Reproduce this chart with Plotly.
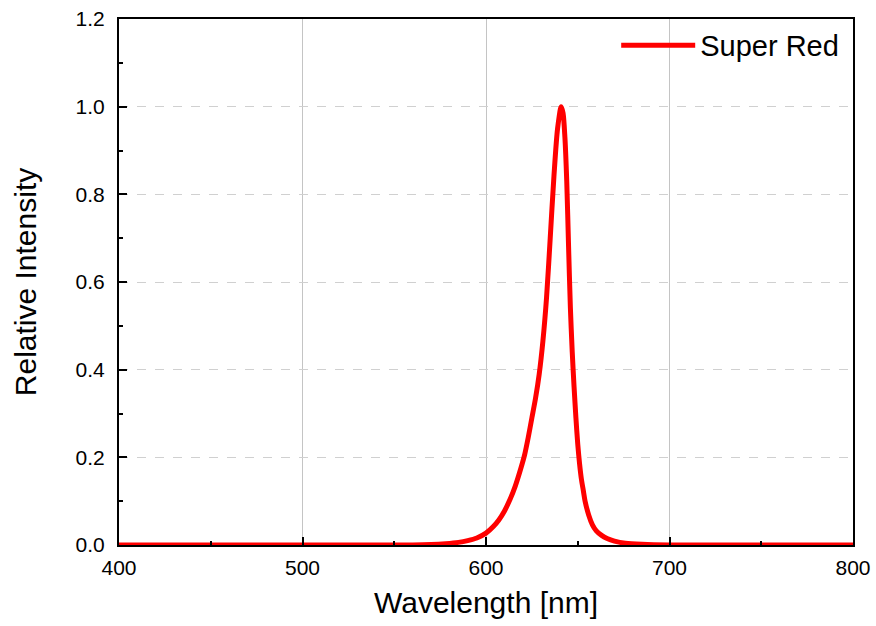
import plotly.graph_objects as go

wavelength = [400, 450, 500, 550, 560, 570, 578, 585, 590, 595, 600, 604, 607, 610, 613, 616, 619,
              621, 623, 625, 627, 629, 631, 633, 635, 637, 639, 641, 642, 643, 644, 645, 646, 647,
              648, 649, 650, 651, 652, 653, 654, 656, 658, 660, 663, 666, 670, 676, 685, 700, 750, 800]
intensity = [0, 0, 0, 0, 0, 0.001, 0.003, 0.006, 0.010, 0.016, 0.027, 0.042, 0.057, 0.077, 0.103,
             0.135, 0.175, 0.205, 0.245, 0.29, 0.335, 0.39, 0.465, 0.565, 0.70, 0.84, 0.95, 1.0,
             0.985, 0.93, 0.83, 0.68, 0.54, 0.44, 0.36, 0.29, 0.23, 0.185, 0.15, 0.125, 0.10,
             0.068, 0.046, 0.033, 0.022, 0.015, 0.009, 0.004, 0.0015, 0.0, 0, 0]
series_name = "Super Red"
x_title = "Wavelength [nm]"
y_title = "Relative Intensity"

FONT = "Liberation Sans, Arial, sans-serif"

fig = go.Figure()
fig.add_trace(go.Scatter(
    x=wavelength, y=intensity, mode="lines", name=series_name,
    line=dict(color="#ff0000", width=5, shape="spline", smoothing=0.8),
))

fig.update_layout(
    width=876, height=626,
    margin=dict(l=119, r=23, t=19, b=81),
    paper_bgcolor="white", plot_bgcolor="white",
    font=dict(family=FONT, color="black"),
    showlegend=True,
    legend=dict(x=0.988, y=0.95, xanchor="right", yanchor="middle",
                bgcolor="rgba(0,0,0,0)", font=dict(size=29, family=FONT),
                itemwidth=74),
)

fig.update_xaxes(
    range=[400, 800], dtick=100, tick0=400,
    showline=True, linecolor="black", linewidth=2, mirror=True,
    ticks="inside", ticklen=8, tickwidth=2, tickcolor="black",
    tickfont=dict(size=21, family=FONT), ticklabelstandoff=3,
    ticklabeloverflow="allow",
    showgrid=True, gridcolor="#c4c4c4", gridwidth=1,
    minor=dict(ticks="inside", ticklen=4, tickwidth=2, tickcolor="black", dtick=50, showgrid=False),
    zeroline=False,
    title=dict(text=x_title, font=dict(size=30, family=FONT), standoff=14),
    automargin=False,
)
fig.update_yaxes(
    range=[0, 1.2], dtick=0.2, tick0=0, tickformat=".1f",
    showline=True, linecolor="black", linewidth=2, mirror=True,
    ticks="inside", ticklen=8, tickwidth=2, tickcolor="black",
    tickfont=dict(size=21, family=FONT), ticklabelstandoff=8,
    ticklabeloverflow="allow",
    showgrid=True, gridcolor="#d0d0d0", gridwidth=1, griddash="dash",
    minor=dict(ticks="inside", ticklen=4, tickwidth=2, tickcolor="black", dtick=0.1, showgrid=False),
    zeroline=False,
    title=dict(text=y_title, font=dict(size=30, family=FONT), standoff=30),
    automargin=False,
)

fig.write_html("out.html",
               config={"displayModeBar": False},
               post_script="document.body.style.margin='0';document.body.style.overflow='hidden';")
